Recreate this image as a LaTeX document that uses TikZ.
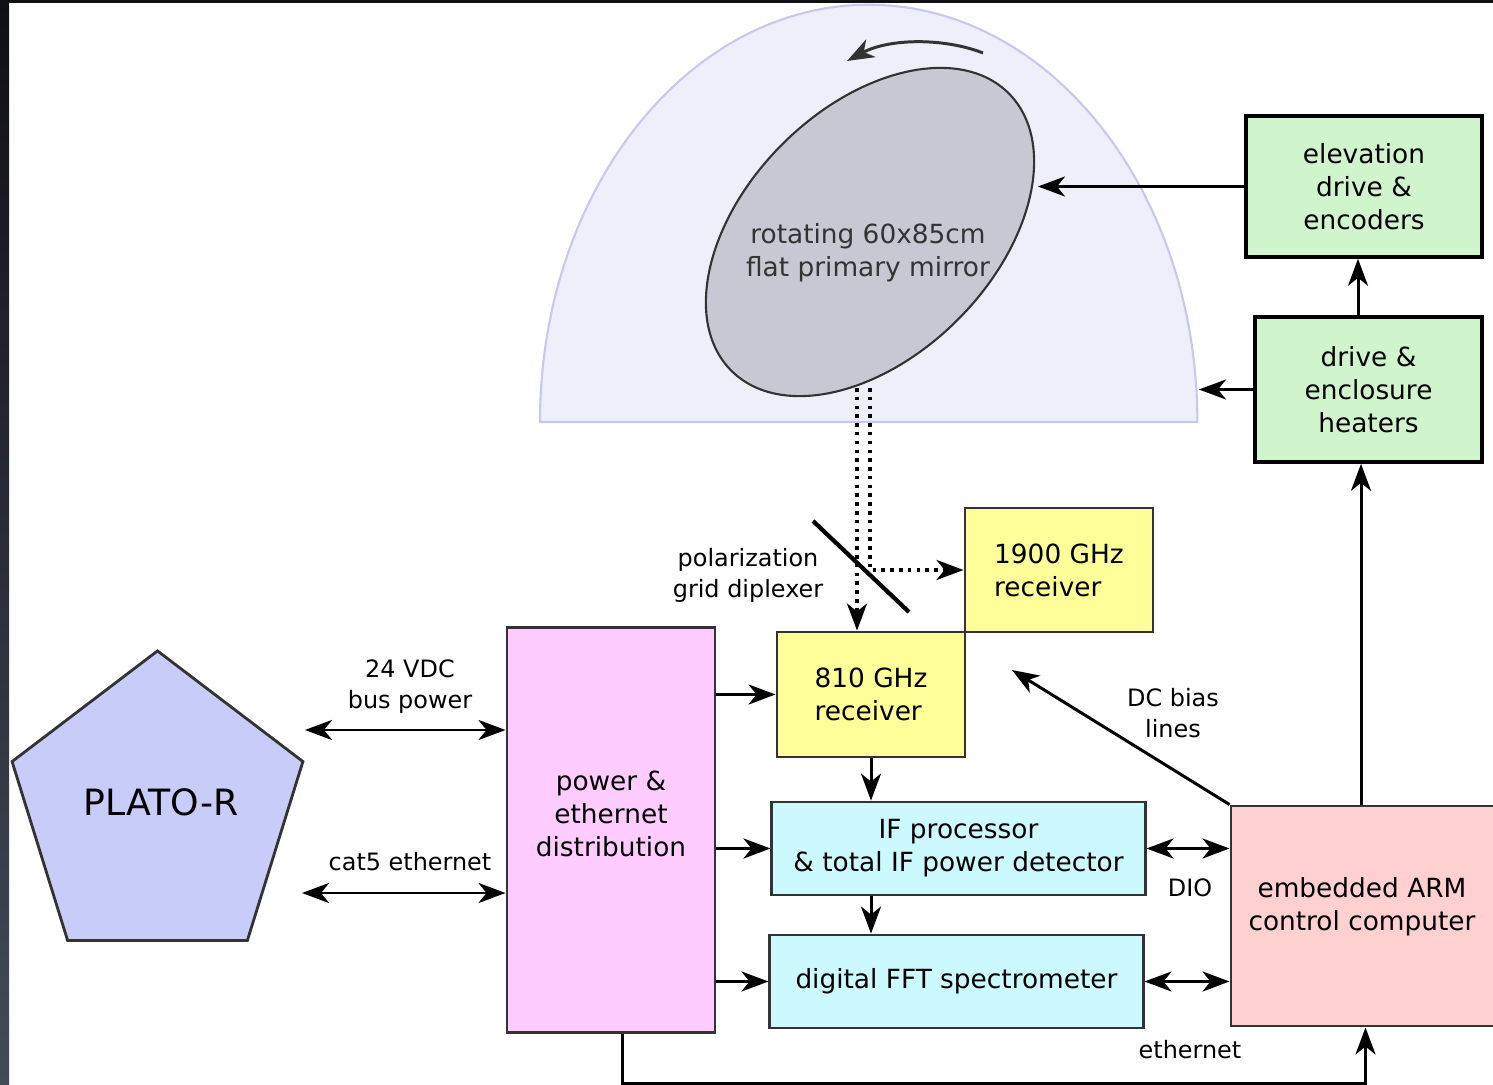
\documentclass[tikz,border=0pt]{standalone}
\usepackage{fontspec}
\setmainfont{DejaVu Sans}
\usetikzlibrary{arrows.meta,positioning,shapes.geometric}

\definecolor{domefill}{HTML}{EFEFFB}
\definecolor{domeline}{HTML}{C8C8EC}
\definecolor{mirrorfill}{HTML}{C7C8D3}
\definecolor{inkgray}{HTML}{333333}
\definecolor{drivegreen}{HTML}{D0F4CC}
\definecolor{rxyellow}{HTML}{FFFF99}
\definecolor{powerpink}{HTML}{FFCCFF}
\definecolor{ifcyan}{HTML}{CCF9FD}
\definecolor{armred}{HTML}{FFD0D0}
\definecolor{platoblue}{HTML}{C8CCF8}
\definecolor{edgetop}{HTML}{0E1014}
\definecolor{edgebottom}{HTML}{454A5A}

\newcommand{\txtmain}{\fontsize{7.5}{9.35}\selectfont}
\newcommand{\txtsmall}{\fontsize{6.8}{8.8}\selectfont}
\newcommand{\txtbig}{\fontsize{10.3}{12}\selectfont}

\tikzset{
>={Stealth[length=0.27cm,width=0.2cm,inset=0.08cm]},
  box/.style={
    rectangle,
    draw=inkgray, line width=0.8pt,
    inner sep=0pt,
    align=center,
    font=\txtmain},
  drivebox/.style={box, draw=black, line width=1pt, fill=drivegreen},
  rxbox/.style={box, fill=rxyellow, align=left},
  powerbox/.style={box, fill=powerpink},
  ifbox/.style={box, fill=ifcyan},
  armbox/.style={box, fill=armred},
  plato/.style={
    regular polygon, regular polygon sides=5,
    minimum size=3.2cm, inner sep=0pt, xscale=0.955,
    draw=inkgray, line width=0.8pt, fill=platoblue},
  lbl/.style={font=\txtsmall, align=center, inner sep=0pt},
  boxtxt/.style={font=\txtmain, align=center, inner sep=0pt},
  link/.style={draw, line width=0.85pt},
  beam/.style={draw, line width=1pt, dash pattern=on 1pt off 1.5pt},
  diplexer/.style={draw, line width=1.2pt},
}

\begin{document}
\begin{tikzpicture}[x=0.01cm, y=-0.01cm]
    \useasboundingbox (0,0) rectangle (1493,1085);

    % screen edge
    \fill[top color=edgetop, bottom color=edgebottom] (0,0) rectangle (9,1085);
    \fill[edgetop] (0,0) rectangle (1493,3);

    % enclosure and mirror
    \draw[domeline, fill=domefill, line width=0.6pt] (540,422)
        arc[start angle=180, end angle=0, x radius=3.285cm, y radius=4.17cm] -- cycle;
    \node[ellipse, rotate=45, minimum width=3.92cm, minimum height=2.48cm,
        draw=inkgray, fill=mirrorfill, line width=0.6pt] (mirror) at (870,232) {};
    \node[boxtxt, text=inkgray] (mirtxt) at (868,253) {rotating 60x85cm\\flat primary mirror};

    \coordinate (rotA) at (983,53);
    \coordinate (rotB) at (847,61);
    \draw[link, inkgray, ->] (rotA) .. controls (945,38) and (890,38) .. (rotB);

    % drive boxes
    \node[drivebox, minimum width=2.36cm, minimum height=1.41cm] (elev) at (1364,186.5)
        {elevation\\drive \&\\encoders};
    \node[drivebox, minimum width=2.27cm, minimum height=1.45cm] (drv) at (1368.5,389.5)
        {drive \&\\enclosure\\heaters};

    % receivers
    \node[rxbox, minimum width=1.88cm, minimum height=1.24cm] (rx1900) at (1059,570)
        {1900 GHz\\receiver};
    \node[rxbox, minimum width=1.88cm, minimum height=1.25cm] (rx810) at (871,694.5)
        {810 GHz\\receiver};

    % backend
    \node[ifbox, minimum width=3.73cm, minimum height=0.93cm] (ifp) at (958.5,848.5)
        {IF processor\\\& total IF power detector};
    \node[ifbox, minimum width=3.73cm, minimum height=0.93cm] (fft) at (956.5,981.5)
        {digital FFT spectrometer};
    \node[armbox, minimum width=2.69cm, minimum height=2.20cm] (arm) at (1365.5,916) {};
    \node[boxtxt] (armtxt) at (1362,907) {embedded ARM\\control computer};

    \node[powerbox, minimum width=2.08cm, minimum height=4.04cm] (power) at (611,830) {};
    \node[boxtxt] (powertxt) at (611,814) {power \&\\ethernet\\distribution};

    \node[plato] (plato) at (157.5,811) {};
    \node[font=\txtbig, inner sep=0pt] (platotxt) at (161,802) {PLATO-R};

    % labels
    \node[lbl] (busl) at (410,687) {24 VDC\\bus power};
    \node[lbl] (cat5l) at (410,862) {cat5 ethernet};
    \node[lbl] (polal) at (748,575) {polarization\\grid diplexer};
    \node[lbl] (diol) at (1190,888) {DIO};
    \node[lbl] (dcl) at (1173,713) {DC bias\\lines};
    \node[lbl] (ethl) at (1190,1050) {ethernet};

    % free ends
    \coordinate (mirhit) at (1038,186.5);
    \coordinate (domeedge) at (1199,389.5);
    \coordinate (beamL) at (857,388);
    \coordinate (beamR) at (870,388);
    \coordinate (gridA) at (813,521);
    \coordinate (gridB) at (909,612);
    \coordinate (busL) at (305,730);
    \coordinate (catL) at (302,893);
    \coordinate (dcend) at (1012,670);

    % optics
    \draw[beam, ->] (beamL) -- (beamL |- rx810.north);
    \draw[beam, ->] (beamR) |- (rx1900.west);
    \draw[diplexer] (gridA) -- (gridB);

    % connections
    \draw[link, ->] (elev.west) -- (mirhit);
    \draw[link, ->] (drv.west) -- (domeedge);
    \draw[link, ->] ([xshift=-0.06cm]elev.south |- drv.north) -- ([xshift=-0.06cm]elev.south);
    \draw[link, ->] ([xshift=-0.045cm]arm.north) -- ([xshift=-0.045cm]arm.north |- drv.south);

    \draw[link, <->] (busL) -- (busL -| power.west);
    \draw[link, <->] (catL) -- (catL -| power.west);
    \draw[link, ->] (power.east |- rx810.west) -- (rx810.west);
    \draw[link, ->] (power.east |- ifp.west) -- (ifp.west);
    \draw[link, ->] (power.east |- fft.west) -- (fft.west);
    \draw[link, ->] (rx810.south) -- (rx810.south |- ifp.north);
    \draw[link, ->] (ifp.south -| rx810.south) -- (rx810.south |- fft.north);
    \draw[link, <->] (ifp.east) -- (ifp.east -| arm.west);
    \draw[link, <->] (fft.east) -- (fft.east -| arm.west);
    \draw[link, ->] (arm.north west) -- (dcend);
    \draw[link, ->] ([xshift=0.11cm]power.south) -- ++(0,50) -| (arm.south);
\end{tikzpicture}
\end{document}
